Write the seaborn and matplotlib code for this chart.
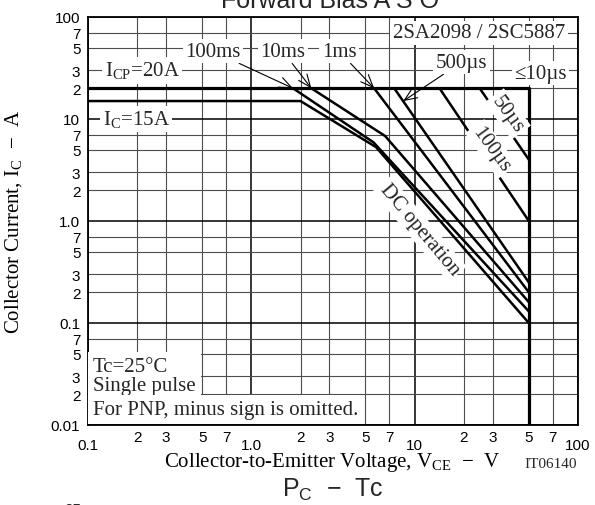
import matplotlib
matplotlib.use("Agg")
import numpy as np
import pandas as pd
import matplotlib.pyplot as plt
import seaborn as sns

# SOA curves: V_CE (V) and I_C (A)
dc_v = [0.1, 2.0, 5.8, 50]
dc_i = [15, 15, 5.3, 0.1]
ms100_v = [1.8, 5.6, 50]
ms100_i = [20, 5.9, 0.13]
ms10_v = [2.33, 6.6, 50]
ms10_i = [20, 6.8, 0.16]
ms1_v = [5.65, 50]
ms1_i = [20, 0.2]
us500_v = [7.5, 50]
us500_i = [20, 0.25]
us100_v = [14.2, 50]
us100_i = [20, 1.0]
us50_v = [25, 50]
us50_i = [20, 4.0]
limit_v = [0.1, 50, 50]
limit_i = [20, 20, 0.01]

x_major = [0.1, 1, 10, 100]
x_major_labels = ["0.1", "1.0", "10", "100"]
y_major = [0.01, 0.1, 1, 10, 100]
y_major_labels = ["0.01", "0.1", "1.0", "10", "100"]
minor_mult = [2, 3, 5, 7]

sns.set_theme(style="white")
plt.rcParams["font.family"] = ["Liberation Serif", "DejaVu Serif"]
plt.rcParams["mathtext.fontset"] = "custom"
plt.rcParams["mathtext.rm"] = "Liberation Serif"

curves = {"DC": (dc_v, dc_i), "100ms": (ms100_v, ms100_i), "10ms": (ms10_v, ms10_i),
          "1ms": (ms1_v, ms1_i), "500us": (us500_v, us500_i),
          "100us": (us100_v, us100_i), "50us": (us50_v, us50_i)}
rows = []
for name, (vs, cs) in curves.items():
    for v, c in zip(vs, cs):
        rows.append({"curve": name, "V": v, "I": c})
df = pd.DataFrame(rows)
lim = pd.DataFrame({"curve": "limit", "V": limit_v, "I": limit_i})

fig = plt.figure(figsize=(5.95, 5.06), dpi=100)
ax = fig.add_axes([88 / 595, 1 - 426 / 506, 490 / 595, 408 / 506])
ax.set_xscale("log")
ax.set_yscale("log")

sns.lineplot(data=df, x="V", y="I", units="curve", estimator=None, sort=False,
             color="black", linewidth=1.8, ax=ax, legend=False)
sns.lineplot(data=lim, x="V", y="I", units="curve", estimator=None, sort=False,
             color="black", linewidth=2.3, ax=ax, legend=False)

ax.set_xlim(0.1, 100)
ax.set_ylim(0.01, 100)

x_minor = [m * d for d in x_major[:-1] for m in minor_mult]
y_minor = [m * d for d in y_major[:-1] for m in minor_mult]
ax.set_xticks(x_major)
ax.set_xticklabels(x_major_labels)
ax.set_xticks(x_minor, minor=True)
ax.set_xticklabels([str(m) for d in x_major[:-1] for m in minor_mult], minor=True)
ax.set_yticks(y_major)
ax.set_yticklabels(y_major_labels)
ax.set_yticks(y_minor, minor=True)
ax.set_yticklabels([str(m) for d in y_major[:-1] for m in minor_mult], minor=True)

for lab in ax.get_xticklabels(which="both") + ax.get_yticklabels(which="both"):
    lab.set_fontfamily("Liberation Sans")
    lab.set_fontsize(11)
    lab.set_color("black")
ax.tick_params(axis="both", which="both", length=0)
ax.tick_params(axis="x", which="major", pad=9)
ax.tick_params(axis="x", which="minor", pad=3.5)
ax.tick_params(axis="y", which="both", pad=5.5)

ax.grid(True, which="major", color="black", linewidth=1.1)
ax.grid(True, which="minor", color="0.3", linewidth=0.8)
for sp in ax.spines.values():
    sp.set_color("black")
    sp.set_linewidth(1.3)

ax.set_xlabel("Collector-to-Emitter Voltage, V$_\\mathregular{CE}$  \u2212  V",
              fontsize=15, color="black")
ax.set_ylabel("Collector Current, I$_\\mathregular{C}$  \u2212  A",
              fontsize=15, color="black")
ax.xaxis.set_label_coords((332 - 88) / 490, -0.062)
ax.yaxis.set_label_coords(-0.128, (426 - 222) / 408)

wbox = dict(boxstyle="square,pad=0.12", fc="white", ec="none")
fs = 15

ax.text(0.215, 30, "I$_\\mathregular{CP}$=20A", fontsize=fs, ha="center", va="center", bbox=wbox)
ax.text(0.197, 10, "I$_\\mathregular{C}$=15A", fontsize=fs, ha="center", va="center", bbox=wbox)
ax.text(24.8, 70, "2SA2098 / 2SC5887", fontsize=fs, ha="center", va="center", bbox=wbox)
ax.text(59, 28, "\u226410\u00b5s", fontsize=fs, ha="center", va="center", bbox=wbox)

arrow = dict(arrowstyle="->,head_length=0.6,head_width=0.25", color="black", lw=0.8,
             shrinkA=0, shrinkB=0)
ax.annotate("100ms", xy=(ms100_v[0], ms100_i[0]), xytext=(0.585, 46), fontsize=fs,
            ha="center", va="center", bbox=wbox, arrowprops=arrow)
ax.annotate("10ms", xy=(ms10_v[0], ms10_i[0]), xytext=(1.56, 46), fontsize=fs,
            ha="center", va="center", bbox=wbox, arrowprops=arrow)
ax.annotate("1ms", xy=(ms1_v[0], ms1_i[0]), xytext=(3.45, 46), fontsize=fs,
            ha="center", va="center", bbox=wbox, arrowprops=arrow)
t500 = 8.5
i500 = 10 ** np.interp(np.log10(t500), np.log10(us500_v), np.log10(us500_i))
ax.annotate("500\u00b5s", xy=(t500, i500), xytext=(19.4, 36), fontsize=fs,
            ha="center", va="center", bbox=wbox, arrowprops=arrow)

ax.text(37.1, 11.2, "50\u00b5s", fontsize=fs, rotation=-54, rotation_mode="anchor",
        ha="center", va="center", bbox=wbox)
ax.text(29.4, 5.08, "100\u00b5s", fontsize=fs, rotation=-54, rotation_mode="anchor",
        ha="center", va="center", bbox=wbox)
ax.text(10.7, 0.835, "DC operation", fontsize=fs, rotation=-50, rotation_mode="anchor",
        ha="center", va="center", bbox=wbox)

ax.text(0.1073, 0.030, "Tc=25\u00b0C\nSingle pulse", fontsize=fs, ha="left", va="center",
        linespacing=1.0, bbox=dict(boxstyle="square,pad=0.25", fc="white", ec="none"))
ax.text(0.1073, 0.0142, "For PNP, minus sign is omitted.", fontsize=fs, ha="left",
        va="center", bbox=dict(boxstyle="square,pad=0.25", fc="white", ec="none"))

fig.text(551 / 595, 1 - 465 / 506, "IT06140", fontsize=11, ha="center", va="center")
fig.text(330 / 595, 1 - 8 / 506, "Forward Bias A S O", fontsize=18, ha="center",
         va="baseline", family="Liberation Sans")
fig.text(333 / 595, 1 - 497 / 506, "P$_\\mathregular{C}$  \u2212  Tc", fontsize=18,
         ha="center", va="baseline", family="Liberation Sans")
fig.text(73 / 595, 1 - 503 / 506, "25", fontsize=11, ha="center", va="top",
         family="Liberation Sans")

fig.savefig("out.png", dpi=100)
